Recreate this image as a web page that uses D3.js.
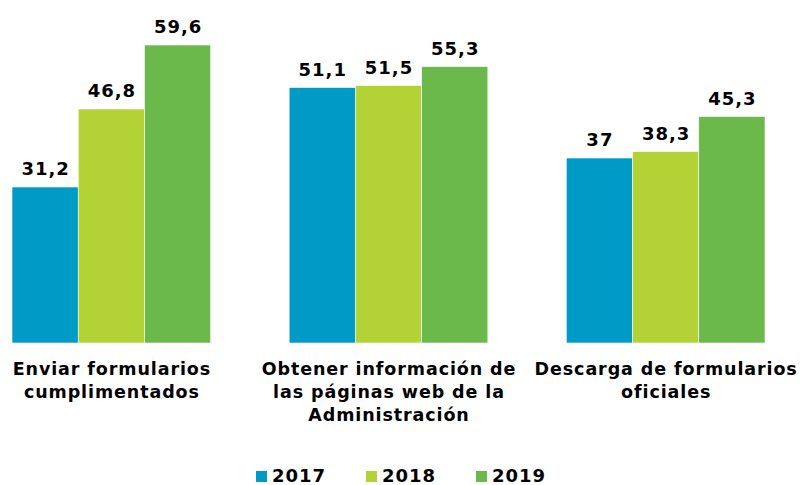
<!DOCTYPE html>
<html>
<head>
<meta charset="utf-8">
<script src="https://cdn.jsdelivr.net/npm/d3@7"></script>
<style>
    body { margin: 0; background: #fff; }
    text { font-family: "DejaVu Sans", Verdana, sans-serif; font-weight: bold; fill: #000; }
</style>
</head>
<body>
<div id="chart"></div>
<script>
    var categorias = [
        ["Enviar formularios", "cumplimentados"],
        ["Obtener información de", "las páginas web de la", "Administración"],
        ["Descarga de formularios", "oficiales"]
    ];
    var anos = ["2017", "2018", "2019"];
    var valores2017 = [31.2, 51.1, 37];
    var valores2018 = [46.8, 51.5, 38.3];
    var valores2019 = [59.6, 55.3, 45.3];
    var cores = ["#009ac6", "#b2d235", "#6ab94a"];

    var largura = 800, altura = 485;
    var base = 343;

    var series = [valores2017, valores2018, valores2019];
    var dados = categorias.map(function(c, i) {
        return { idx: i, linhas: c, valores: series.map(function(s, j) { return { ano: anos[j], v: s[i] }; }) };
    });

    var svg = d3.select("#chart").append("svg")
        .attr("width", largura)
        .attr("height", altura);

    var x0 = d3.scaleBand()
        .domain(d3.range(categorias.length))
        .range([12, 765])
        .paddingInner(0.283)
        .paddingOuter(0);

    var x1 = d3.scaleBand()
        .domain(anos)
        .range([0, x0.bandwidth()])
        .padding(0);

    var y = d3.scaleLinear()
        .domain([0, 68.6])
        .range([base, 0]);

    var cor = d3.scaleOrdinal().domain(anos).range(cores);
    var fmt = function(v) { return String(v).replace(".", ","); };

    var grupo = svg.selectAll(".grupo")
        .data(dados)
        .enter().append("g")
        .attr("class", "grupo")
        .attr("transform", function(d) { return "translate(" + x0(d.idx) + ",0)"; });

    grupo.selectAll("rect")
        .data(function(d) { return d.valores; })
        .enter().append("rect")
        .attr("x", function(d) { return x1(d.ano); })
        .attr("y", function(d) { return y(d.v); })
        .attr("width", x1.bandwidth())
        .attr("height", function(d) { return base - y(d.v); })
        .style("fill", function(d) { return cor(d.ano); })
        .style("stroke", "#fff")
        .style("stroke-width", 0.6);

    // rotulos dos valores
    grupo.selectAll(".valor")
        .data(function(d) { return d.valores; })
        .enter().append("text")
        .attr("class", "valor")
        .attr("x", function(d) { return x1(d.ano) + x1.bandwidth() / 2 + 0.5; })
        .attr("y", function(d) { return y(d.v) - 12; })
        .attr("text-anchor", "middle")
        .style("font-size", "18px")
        .style("letter-spacing", "1px")
        .text(function(d) { return fmt(d.v); });

    // rotulos das categorias
    var rot = grupo.append("text")
        .attr("text-anchor", "middle")
        .style("font-size", "17.5px")
        .style("letter-spacing", "0.9px")
        .attr("transform", "translate(" + (x0.bandwidth() / 2 + 0.5) + ",375)");
    rot.selectAll("tspan")
        .data(function(d) { return d.linhas; })
        .enter().append("tspan")
        .attr("x", 0)
        .attr("y", function(d, i) { return i * 23; })
        .text(function(d) { return d; });

    // legenda
    var legenda = svg.append("g").attr("transform", "translate(256,471)");
    var item = legenda.selectAll(".item")
        .data(anos)
        .enter().append("g")
        .attr("class", "item")
        .attr("transform", function(d, i) { return "translate(" + i * 110 + ",0)"; });
    item.append("rect")
        .attr("width", 11)
        .attr("height", 11)
        .style("fill", function(d) { return cor(d); });
    item.append("text")
        .attr("x", 16)
        .attr("y", 11)
        .style("font-size", "18px")
        .style("letter-spacing", "1px")
        .text(function(d) { return d; });
</script>
</body>
</html>
